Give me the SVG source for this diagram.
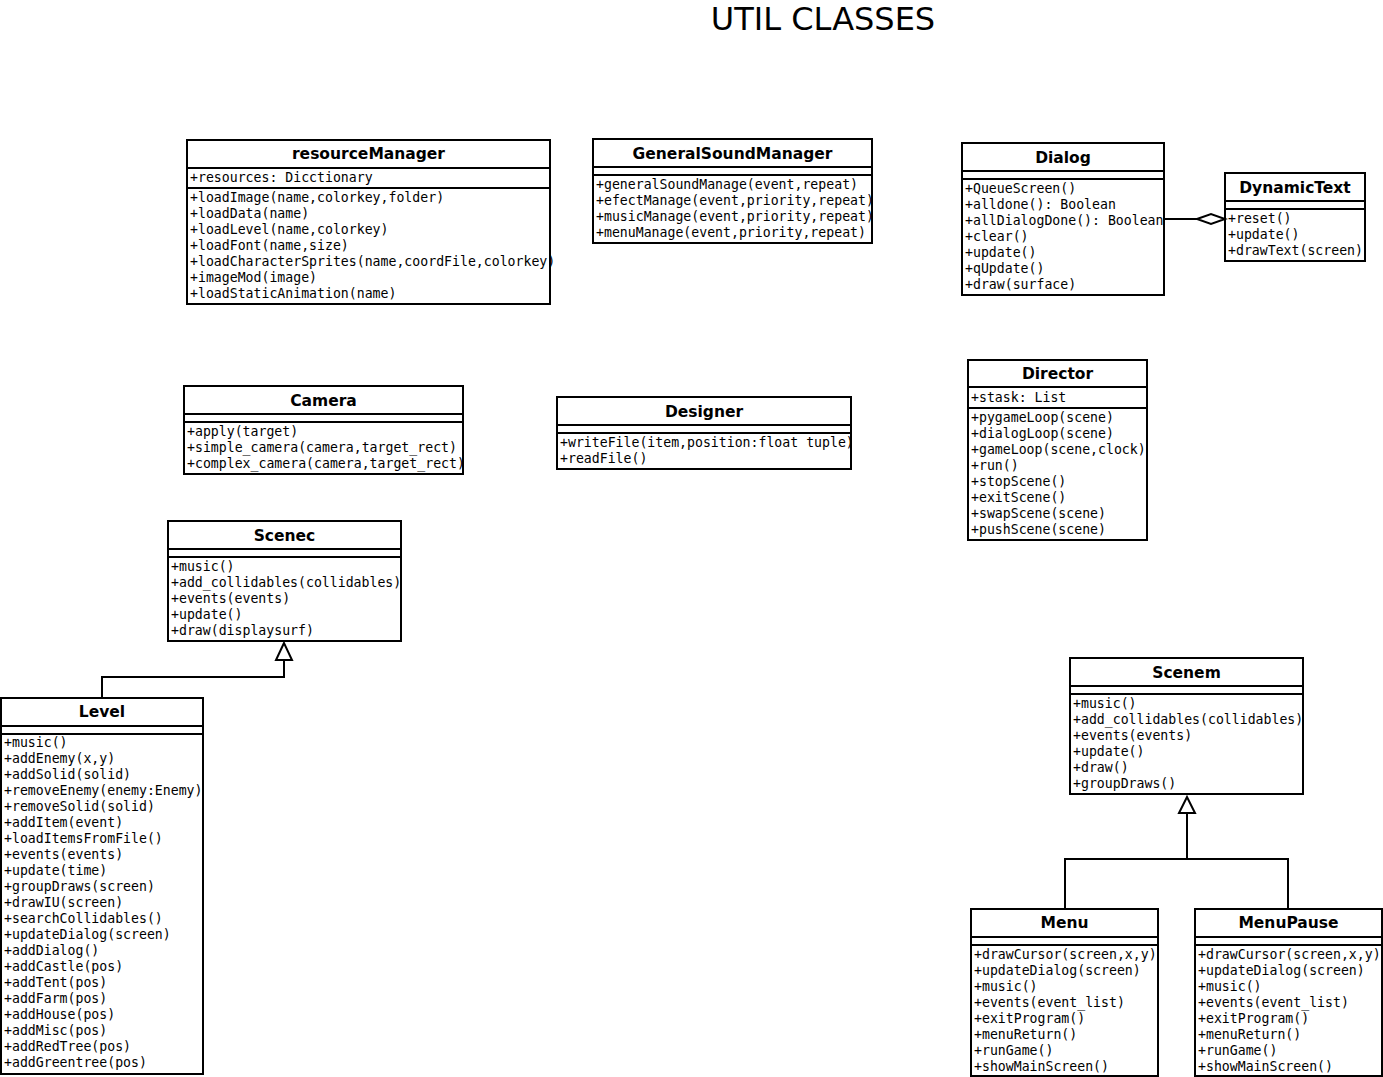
<svg xmlns="http://www.w3.org/2000/svg" width="1383" height="1077" viewBox="0 0 1383 1077">
<style>
.box{fill:#fff;stroke:#000;stroke-width:2}
.div{stroke:#000;stroke-width:2}
.t{font-family:"DejaVu Sans","Liberation Sans",sans-serif;font-weight:bold;font-size:15.5px;text-anchor:middle;fill:#000}
.m{font-family:"DejaVu Sans Mono","Liberation Mono",monospace;font-size:13.2px;fill:#000}
.c{fill:none;stroke:#000;stroke-width:2}
.h{font-family:"DejaVu Sans","Liberation Sans",sans-serif;font-size:32px;text-anchor:middle;fill:#000}
</style>
<defs>
<clipPath id="clipCam"><rect x="184" y="386" width="279" height="88"/></clipPath>
<clipPath id="clipGsm"><rect x="593" y="139" width="279" height="104"/></clipPath>
</defs>
<rect width="1383" height="1077" fill="#fff"/>
<text class="h" x="823" y="30">UTIL CLASSES</text>

<g id="resourceManager">
<rect class="box" x="187" y="140" width="363" height="164"/>
<line class="div" x1="187" y1="168" x2="550" y2="168"/>
<line class="div" x1="187" y1="188" x2="550" y2="188"/>
<text class="t" x="368.5" y="159">resourceManager</text>
<text class="m" x="190" y="181.5">+resources: Dicctionary</text>
<text class="m" x="190" y="201.5">+loadImage(name,colorkey,folder)</text>
<text class="m" x="190" y="217.5">+loadData(name)</text>
<text class="m" x="190" y="233.5">+loadLevel(name,colorkey)</text>
<text class="m" x="190" y="249.5">+loadFont(name,size)</text>
<text class="m" x="190" y="265.5">+loadCharacterSprites(name,coordFile,colorkey)</text>
<text class="m" x="190" y="281.5">+imageMod(image)</text>
<text class="m" x="190" y="297.5">+loadStaticAnimation(name)</text>
</g>

<g id="GeneralSoundManager">
<rect class="box" x="593" y="139" width="279" height="104"/>
<line class="div" x1="593" y1="167" x2="872" y2="167"/>
<line class="div" x1="593" y1="175" x2="872" y2="175"/>
<text class="t" x="732.5" y="158.5">GeneralSoundManager</text>
<g clip-path="url(#clipGsm)">
<text class="m" x="596" y="188.5">+generalSoundManage(event,repeat)</text>
<text class="m" x="596" y="204.5">+efectManage(event,priority,repeat)</text>
<text class="m" x="596" y="220.5">+musicManage(event,priority,repeat)</text>
<text class="m" x="596" y="236.5">+menuManage(event,priority,repeat)</text>
</g>
</g>

<g id="Dialog">
<rect class="box" x="962" y="143" width="202" height="152"/>
<line class="div" x1="962" y1="171" x2="1164" y2="171"/>
<line class="div" x1="962" y1="179" x2="1164" y2="179"/>
<text class="t" x="1063" y="162.5">Dialog</text>
<text class="m" x="965" y="192.5">+QueueScreen()</text>
<text class="m" x="965" y="208.5">+alldone(): Boolean</text>
<text class="m" x="965" y="224.5">+allDialogDone(): Boolean</text>
<text class="m" x="965" y="240.5">+clear()</text>
<text class="m" x="965" y="256.5">+update()</text>
<text class="m" x="965" y="272.5">+qUpdate()</text>
<text class="m" x="965" y="288.5">+draw(surface)</text>
</g>

<g id="DynamicText">
<rect class="box" x="1225" y="173" width="140" height="88"/>
<line class="div" x1="1225" y1="201" x2="1365" y2="201"/>
<line class="div" x1="1225" y1="209" x2="1365" y2="209"/>
<text class="t" x="1295" y="192.5">DynamicText</text>
<text class="m" x="1228" y="222.5">+reset()</text>
<text class="m" x="1228" y="238.5">+update()</text>
<text class="m" x="1228" y="254.5">+drawText(screen)</text>
</g>

<g id="Camera">
<rect class="box" x="184" y="386" width="279" height="88"/>
<line class="div" x1="184" y1="414" x2="463" y2="414"/>
<line class="div" x1="184" y1="422" x2="463" y2="422"/>
<text class="t" x="323.5" y="405.5">Camera</text>
<g clip-path="url(#clipCam)">
<text class="m" x="187" y="435.5">+apply(target)</text>
<text class="m" x="187" y="451.5">+simple_camera(camera,target_rect)</text>
<text class="m" x="187" y="467.5">+complex_camera(camera,target_rect)</text>
</g>
</g>

<g id="Designer">
<rect class="box" x="557" y="397" width="294" height="72"/>
<line class="div" x1="557" y1="425" x2="851" y2="425"/>
<line class="div" x1="557" y1="433" x2="851" y2="433"/>
<text class="t" x="704" y="416.5">Designer</text>
<text class="m" x="560" y="446.5">+writeFile(item,position:float tuple)</text>
<text class="m" x="560" y="462.5">+readFile()</text>
</g>

<g id="Director">
<rect class="box" x="968" y="360" width="179" height="180"/>
<line class="div" x1="968" y1="387" x2="1147" y2="387"/>
<line class="div" x1="968" y1="408" x2="1147" y2="408"/>
<text class="t" x="1057.5" y="378.5">Director</text>
<text class="m" x="971" y="401.5">+stask: List</text>
<text class="m" x="971" y="421.5">+pygameLoop(scene)</text>
<text class="m" x="971" y="437.5">+dialogLoop(scene)</text>
<text class="m" x="971" y="453.5">+gameLoop(scene,clock)</text>
<text class="m" x="971" y="469.5">+run()</text>
<text class="m" x="971" y="485.5">+stopScene()</text>
<text class="m" x="971" y="501.5">+exitScene()</text>
<text class="m" x="971" y="517.5">+swapScene(scene)</text>
<text class="m" x="971" y="533.5">+pushScene(scene)</text>
</g>

<g id="Scenec">
<rect class="box" x="168" y="521" width="233" height="120"/>
<line class="div" x1="168" y1="549" x2="401" y2="549"/>
<line class="div" x1="168" y1="557" x2="401" y2="557"/>
<text class="t" x="284.5" y="540.5">Scenec</text>
<text class="m" x="171" y="570.5">+music()</text>
<text class="m" x="171" y="586.5">+add_collidables(collidables)</text>
<text class="m" x="171" y="602.5">+events(events)</text>
<text class="m" x="171" y="618.5">+update()</text>
<text class="m" x="171" y="634.5">+draw(displaysurf)</text>
</g>

<g id="Level">
<rect class="box" x="1" y="698" width="202" height="376"/>
<line class="div" x1="1" y1="726" x2="203" y2="726"/>
<line class="div" x1="1" y1="734" x2="203" y2="734"/>
<text class="t" x="102" y="716.5">Level</text>
<text class="m" x="4" y="746.5">+music()</text>
<text class="m" x="4" y="762.5">+addEnemy(x,y)</text>
<text class="m" x="4" y="778.5">+addSolid(solid)</text>
<text class="m" x="4" y="794.5">+removeEnemy(enemy:Enemy)</text>
<text class="m" x="4" y="810.5">+removeSolid(solid)</text>
<text class="m" x="4" y="826.5">+addItem(event)</text>
<text class="m" x="4" y="842.5">+loadItemsFromFile()</text>
<text class="m" x="4" y="858.5">+events(events)</text>
<text class="m" x="4" y="874.5">+update(time)</text>
<text class="m" x="4" y="890.5">+groupDraws(screen)</text>
<text class="m" x="4" y="906.5">+drawIU(screen)</text>
<text class="m" x="4" y="922.5">+searchCollidables()</text>
<text class="m" x="4" y="938.5">+updateDialog(screen)</text>
<text class="m" x="4" y="954.5">+addDialog()</text>
<text class="m" x="4" y="970.5">+addCastle(pos)</text>
<text class="m" x="4" y="986.5">+addTent(pos)</text>
<text class="m" x="4" y="1002.5">+addFarm(pos)</text>
<text class="m" x="4" y="1018.5">+addHouse(pos)</text>
<text class="m" x="4" y="1034.5">+addMisc(pos)</text>
<text class="m" x="4" y="1050.5">+addRedTree(pos)</text>
<text class="m" x="4" y="1066.5">+addGreentree(pos)</text>
</g>

<g id="Scenem">
<rect class="box" x="1070" y="658" width="233" height="136"/>
<line class="div" x1="1070" y1="686" x2="1303" y2="686"/>
<line class="div" x1="1070" y1="694" x2="1303" y2="694"/>
<text class="t" x="1186.5" y="677.5">Scenem</text>
<text class="m" x="1073" y="707.5">+music()</text>
<text class="m" x="1073" y="723.5">+add_collidables(collidables)</text>
<text class="m" x="1073" y="739.5">+events(events)</text>
<text class="m" x="1073" y="755.5">+update()</text>
<text class="m" x="1073" y="771.5">+draw()</text>
<text class="m" x="1073" y="787.5">+groupDraws()</text>
</g>

<g id="Menu">
<rect class="box" x="971" y="909" width="187" height="167"/>
<line class="div" x1="971" y1="937" x2="1158" y2="937"/>
<line class="div" x1="971" y1="945" x2="1158" y2="945"/>
<text class="t" x="1064.5" y="927.5">Menu</text>
<text class="m" x="974" y="958.5">+drawCursor(screen,x,y)</text>
<text class="m" x="974" y="974.5">+updateDialog(screen)</text>
<text class="m" x="974" y="990.5">+music()</text>
<text class="m" x="974" y="1006.5">+events(event_list)</text>
<text class="m" x="974" y="1022.5">+exitProgram()</text>
<text class="m" x="974" y="1038.5">+menuReturn()</text>
<text class="m" x="974" y="1054.5">+runGame()</text>
<text class="m" x="974" y="1070.5">+showMainScreen()</text>
</g>

<g id="MenuPause">
<rect class="box" x="1195" y="909" width="187" height="167"/>
<line class="div" x1="1195" y1="937" x2="1382" y2="937"/>
<line class="div" x1="1195" y1="945" x2="1382" y2="945"/>
<text class="t" x="1288.5" y="927.5">MenuPause</text>
<text class="m" x="1198" y="958.5">+drawCursor(screen,x,y)</text>
<text class="m" x="1198" y="974.5">+updateDialog(screen)</text>
<text class="m" x="1198" y="990.5">+music()</text>
<text class="m" x="1198" y="1006.5">+events(event_list)</text>
<text class="m" x="1198" y="1022.5">+exitProgram()</text>
<text class="m" x="1198" y="1038.5">+menuReturn()</text>
<text class="m" x="1198" y="1054.5">+runGame()</text>
<text class="m" x="1198" y="1070.5">+showMainScreen()</text>
</g>

<g id="connectors">
<path class="c" d="M102,698 V677 H284 V660"/>
<polygon points="284,643 276,660 292,660" fill="#fff" stroke="#000" stroke-width="2"/>
<path class="c" d="M1065,909 V859 H1288 V909 M1187,859 V813"/>
<polygon points="1187,797 1179,813 1195,813" fill="#fff" stroke="#000" stroke-width="2"/>
<line class="c" x1="1164" y1="219" x2="1197" y2="219"/>
<polygon points="1197,219 1211,214 1225,219 1211,224" fill="#fff" stroke="#000" stroke-width="2"/>
</g>
</svg>
